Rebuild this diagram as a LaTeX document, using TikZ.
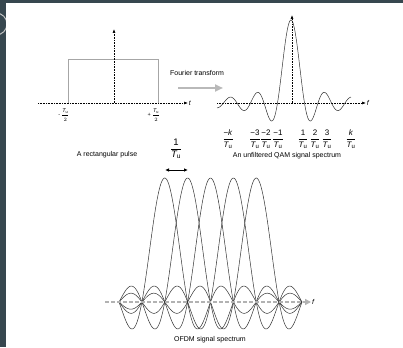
\documentclass[tikz,border=0pt]{standalone}
\usepackage{amsmath}
\usepackage{fontspec}
\setmainfont{Liberation Sans}
\usepackage{xcolor}
\usetikzlibrary{arrows.meta, positioning}

\definecolor{khung}{HTML}{37474F}
\newcommand{\Tu}{\textit{T}_{\text{u}}}
\newcommand{\phanso}[2]{$\dfrac{\text{#1}}{#2}$}

\tikzset{
    truc/.style={densely dotted, line width=0.6pt, -{Latex[length=4pt,width=3pt]}},
    trucxam/.style={dashed, dash pattern=on 4pt off 2pt, gray!60, line width=1.4pt,
        -{Triangle[length=6pt,width=6pt]}},
    nhan/.style={font=\fontsize{7}{8}\selectfont, inner sep=0.5pt},
    nhanps/.style={font=\fontsize{8}{9}\selectfont, inner sep=0.5pt},
    nhannho/.style={font=\fontsize{5.5}{6}\selectfont, inner sep=0.5pt},
    nhanto/.style={font=\fontsize{9.5}{11}\selectfont, inner sep=0.5pt},
    duongcong/.style={black!80, line width=0.5pt},
}

\begin{document}
\begin{tikzpicture}[x=1pt, y=-1pt, >=latex,
    declare function={sinc(\u)=sin(180*(\u+0.0001))/(pi*(\u+0.0001));}]
    % Khung nền
    \fill[khung] (0,0) rectangle (403,347);
    \begin{scope}
        \clip (0,0) rectangle (6,347);
        \draw[gray!45, line width=1pt] (-4,24) circle (11);
    \end{scope}
    \fill[white] (6,3) rectangle (403,347);

    % Xung chữ nhật
    \coordinate (tL) at (38,103);
    \coordinate (tR) at (188,103);
    \coordinate (O1) at (114,103);
    \coordinate (yT) at (114,29);
    \draw[gray!70, line width=0.6pt] (68,103) |- (158,59) -- (158,103);
    \draw[truc] (tL) -- (tR) node[right, nhan] (t) {\textit{t}};
    \draw[truc] (O1) -- (yT);
    \node[nhannho] (am) at (64,115) {-\,$\dfrac{\Tu}{2}$};
    \node[nhannho] (duong) at (154,115) {+\,$\dfrac{\Tu}{2}$};
    \node[nhan] (xung) at (107,155) {A rectangular pulse};

    % Biến đổi Fourier
    \node[nhan] (ft) at (197,73) {Fourier transform};
    \coordinate (f1) at (178,88);
    \coordinate (f2) at (223,88);
    \draw[gray!55, line width=2.2pt, -{Triangle[length=8pt,width=7pt]}] (f1) -- (f2);

    % Phổ QAM
    \coordinate (fL) at (217,103);
    \coordinate (fR) at (366,103);
    \coordinate (O2) at (292,103);
    \coordinate (fT) at (292,15);
    \draw[truc] (fL) -- (fR) node[right, nhan] (f) {\textit{f}};
    \draw[truc] (O2) -- (fT);
    \draw[duongcong, samples=300, domain=217:351]
        plot (\x, {103-83*sinc((\x-291)/13.5)});
    \node[nhanps] (mk) at (228,139) {\phanso{−\textit{k}}{\Tu}};
    \foreach \n/\xx in {3/255, 2/266, 1/278} {
        \node[nhanps] (m\n) at (\xx,139) {\phanso{−\n}{\Tu}};
    }
    \foreach \n/\xx in {1/303, 2/315, 3/327} {
        \node[nhanps] (p\n) at (\xx,139) {\phanso{\n}{\Tu}};
    }
    \node[nhanps] (pk) at (351,139) {\phanso{\textit{k}}{\Tu}};
    \node[nhan] (qam) at (287,156) {An unfiltered QAM signal spectrum};

    % Phổ OFDM
    \node[nhanto] (dk) at (176,149) {\phanso{1}{\Tu}};
    \coordinate (d1) at (165,170);
    \coordinate (d2) at (188,170);
    \draw[line width=0.8pt, {Latex[length=4pt,width=3.5pt]}-{Latex[length=4pt,width=3.5pt]}] (d1) -- (d2);
    \foreach \k in {2,...,6} {
        \draw[duongcong, samples=250, domain=119:302]
            plot (\x, {302-124*sinc((\x-119-\k*22.875)/22.875)});
    }
    \coordinate (gL) at (105,302);
    \coordinate (gR) at (311,302);
    \draw[trucxam] (gL) -- (gR) node[right, nhan, black] (g) {\textit{f}};
    \node[nhan] (ofdm) at (210,340) {OFDM signal spectrum};
\end{tikzpicture}
\end{document}
